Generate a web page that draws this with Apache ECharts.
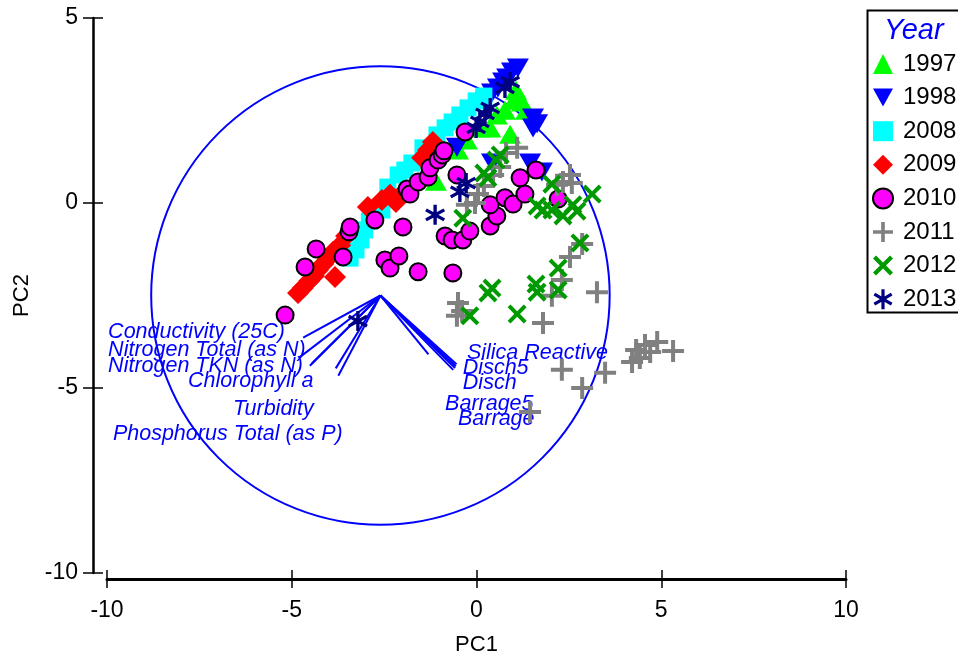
<!DOCTYPE html>
<html><head><meta charset="utf-8">
<script src="https://cdn.jsdelivr.net/npm/echarts@6/dist/echarts.min.js"></script>
<style>html,body{margin:0;padding:0;background:#fff}#c{width:958px;height:661px}</style>
</head><body><div id="c"></div>
<script>
// ---------- data ----------
const years = ['1997','1998','2008','2009','2010','2011','2012','2013'];
const d1997 = [[-1.10,0.59],[-0.50,1.43],[-0.26,1.70],[0.09,2.03],[0.37,2.03],[0.55,2.38],[0.77,2.51],[0.91,1.86],[1.01,2.78],[1.23,2.73],[1.34,2.51],[1.07,3.05]];
const d1998 = [[1.12,3.65],[0.96,3.54],[0.83,3.38],[0.72,3.27],[0.58,3.11],[0.42,2.97],[0.26,2.78],[1.53,2.30],[1.64,2.14],[1.53,2.03],[1.45,1.08],[1.77,0.84],[0.42,1.08],[-0.53,1.51]];
const d2008 = [[-3.42,-1.49],[-3.26,-1.27],[-3.13,-1.00],[-3.03,-0.73],[-2.90,-0.49],[-2.75,-0.30],[-2.56,-0.19],[-2.40,0.43],[-2.12,0.76],[-1.94,0.89],[-1.75,1.08],[-1.45,1.49],[-1.07,1.84],[-0.85,2.03],[-0.66,2.19],[-0.45,2.38],[-0.23,2.57],[-0.01,2.76],[0.20,2.89]];
const d2009 = [[-4.83,-2.43],[-4.70,-2.30],[-4.53,-2.11],[-4.40,-1.97],[-4.29,-1.81],[-4.15,-1.65],[-4.02,-1.49],[-3.83,-2.00],[-3.88,-1.32],[-3.69,-1.14],[-3.53,-0.89],[-2.94,-0.11],[-2.56,0.08],[-2.34,0.22],[-2.18,0.03],[-1.99,0.27],[-1.47,1.22],[-1.31,1.43],[-1.18,1.65]];
const d2010 = [[-5.18,-3.03],[-4.64,-1.73],[-4.34,-1.24],[-3.61,-1.46],[-3.45,-0.78],[-3.42,-0.65],[-2.75,-0.46],[-1.99,-0.65],[-2.48,-1.54],[-2.34,-1.76],[-2.10,-1.43],[-1.58,-1.86],[-0.64,-1.89],[-0.85,-0.89],[-0.66,-1.00],[-0.37,-1.00],[-0.18,-0.76],[0.37,-0.62],[0.55,-0.35],[0.37,-0.05],[0.77,0.14],[0.99,-0.03],[1.31,0.24],[1.18,0.68],[1.61,0.89],[2.21,0.11],[-0.53,0.76],[-1.88,0.38],[-1.80,0.24],[-1.58,0.57],[-1.31,0.70],[-1.26,0.95],[-1.04,1.16],[-0.93,1.30],[-0.88,1.41],[-0.31,1.92]];
const d2011 = [[0.45,0.76],[0.20,0.46],[0.04,0.24],[-0.04,0.00],[-0.26,-0.05],[0.64,0.97],[0.80,1.35],[1.10,1.49],[2.53,0.76],[2.58,0.54],[2.34,0.57],[2.18,0.49],[2.86,-1.11],[2.53,-1.46],[2.31,-2.08],[2.04,-2.51],[1.80,-3.24],[3.26,-2.41],[-0.50,-2.70],[-0.39,-2.92],[-0.53,-3.05],[2.31,-4.51],[3.48,-4.59],[2.86,-5.00],[1.45,-5.65],[4.32,-3.97],[4.56,-3.84],[4.89,-3.76],[5.32,-4.00],[4.42,-4.19],[4.70,-4.03],[4.21,-4.30]];
const d2012 = [[0.64,1.30],[0.53,1.16],[0.20,0.81],[0.31,0.68],[-0.37,-0.41],[1.64,-0.08],[1.80,-0.19],[2.04,-0.19],[2.34,-0.35],[2.72,-0.22],[2.61,-0.05],[3.13,0.24],[2.04,0.51],[2.80,-1.08],[2.21,-1.76],[1.61,-2.19],[1.64,-2.41],[2.21,-2.35],[0.42,-2.30],[0.31,-2.43],[1.10,-3.00],[-0.18,-3.05]];
const d2013 = [[0.91,3.27],[0.77,3.11],[0.37,2.57],[0.23,2.41],[0.09,2.19],[-0.01,2.03],[-0.28,0.54],[-0.45,0.30],[-1.12,-0.32],[-3.21,-3.19]];
const yearData = [d1997,d1998,d2008,d2009,d2010,d2011,d2012,d2013];

const xTicks = [-10,-5,0,5,10];
const yTicks = [-10,-5,0,5];
const circleCenter = [-2.6,-2.5];
const circleRadius = 6.2;
const vectorOrigin = [-2.6,-2.5];
const vectorNames = ['Conductivity (25C)','Nitrogen Total (as N)','Nitrogen TKN (as N)','Chlorophyll a','Turbidity','Phosphorus Total (as P)','Silica Reactive','Disch5','Disch','Barrage5','Barrage'];
const vectorEnds = [[-4.69,-3.64],[-4.80,-4.18],[-4.51,-4.40],[-3.81,-4.47],[-3.74,-4.67],[-4.45,-4.33],[-1.30,-4.09],[-0.54,-4.36],[-0.56,-4.41],[-0.63,-4.51],[-0.58,-4.46]];
const vectorLabelAt = [[-9.97,-3.49],[-9.97,-3.97],[-9.97,-4.41],[-7.81,-4.82],[-6.59,-5.57],[-9.84,-6.24],[-0.26,-4.05],[-0.37,-4.45],[-0.37,-4.86],[-0.85,-5.43],[-0.50,-5.83]];

// ---------- styles ----------
const FONT = '"Liberation Sans", Arial, sans-serif';
const BLUE = '#0000ff';
const PLUS = 'path://M9,0H13V9H22V13H13V22H9V13H0V9H9Z';
const XMARK = 'path://M0,3L3,0L10,7L17,0L20,3L13,10L20,17L17,20L10,13L3,20L0,17L7,10Z';
const ASTER = 'path://M8.4,0L11.6,0L11.6,20L8.4,20Z M0.54,6.39L2.14,3.61L19.46,13.61L17.86,16.39Z M17.86,3.61L19.46,6.39L2.14,16.39L0.54,13.61Z';
const DOWNTRI = 'path://M0,0L20,0L10,18Z';
const styles = {
  '1997': {symbol:'triangle', symbolSize:[22,19], itemStyle:{color:'#00ff00', opacity:1}},
  '1998': {symbol:DOWNTRI, symbolSize:[22,19], itemStyle:{color:'#0000ff', opacity:1}},
  '2008': {symbol:'rect', symbolSize:17, itemStyle:{color:'#00ffff', opacity:1}},
  '2009': {symbol:'diamond', symbolSize:22, itemStyle:{color:'#ff0000', opacity:1}},
  '2010': {symbol:'circle', symbolSize:17, itemStyle:{color:'#ff00ff', borderColor:'#000', borderWidth:2, opacity:1}},
  '2011': {symbol:PLUS, symbolSize:22, itemStyle:{color:'#808080', opacity:1}},
  '2012': {symbol:XMARK, symbolSize:19, itemStyle:{color:'#009a00', opacity:1}},
  '2013': {symbol:ASTER, symbolSize:20, itemStyle:{color:'#000080', opacity:1}}
};

const scatterSeries = years.map((y,i)=>Object.assign({
  type:'scatter', name:y, data:yearData[i], z:3, animation:false
}, styles[y]));

const chart = echarts.init(document.getElementById('c'), null, {renderer:'canvas'});

const baseX = {type:'value', min:xTicks[0], max:xTicks[xTicks.length-1], interval:5, position:'bottom', offset:6,
  splitLine:{show:false}};
const baseY = {type:'value', min:yTicks[0], max:yTicks[yTicks.length-1], interval:5, position:'left', offset:14,
  splitLine:{show:false}};

chart.setOption({
  animation:false,
  grid:{left:107, right:112, top:18, bottom:88},
  xAxis:[
    Object.assign({}, baseX, {
      axisLine:{show:true, onZero:false, lineStyle:{color:'#000', width:3}},
      axisTick:{show:true, inside:false, length:9, lineStyle:{color:'#000', width:1.5}},
      axisLabel:{fontSize:23, color:'#000', fontFamily:FONT, margin:20},
      name:'PC1', nameLocation:'middle', nameGap:55,
      nameTextStyle:{fontSize:22, color:'#000', fontFamily:FONT}
    }),
    Object.assign({}, baseX, {
      axisLine:{show:false, onZero:false}, axisLabel:{show:false},
      axisTick:{show:true, inside:true, length:9, lineStyle:{color:'#000', width:1.5}}
    })
  ],
  yAxis:[
    Object.assign({}, baseY, {
      axisLine:{show:true, onZero:false, lineStyle:{color:'#000', width:2.5}},
      axisTick:{show:true, inside:false, length:10, lineStyle:{color:'#000', width:1.5}},
      axisLabel:{fontSize:23, color:'#000', fontFamily:FONT, margin:15},
      name:'PC2', nameLocation:'middle', nameGap:60,
      nameTextStyle:{fontSize:22, color:'#000', fontFamily:FONT}
    }),
    Object.assign({}, baseY, {
      axisLine:{show:false, onZero:false}, axisLabel:{show:false},
      axisTick:{show:true, inside:true, length:10, lineStyle:{color:'#000', width:1.5}}
    })
  ],
  legend:{
    data:years, orient:'vertical', left:872, top:51, padding:0,
    itemWidth:20, itemHeight:20, itemGap:7.6,
    textStyle:{fontSize:24, color:'#000', fontFamily:FONT, lineHeight:26, padding:[0,0,0,5]}
  },
  graphic:[
    {type:'rect', left:865, top:8, shape:{width:160, height:302}, style:{fill:'none', stroke:'#000', lineWidth:2}, z:-1},
    {type:'text', left:884, top:16, style:{text:'Year', fill:BLUE, font:'italic 29px '+FONT}}
  ],
  series:[
    {type:'custom', silent:true, z:1, animation:false, clip:false,
     data:[[circleCenter[0], circleCenter[1], circleRadius]],
     renderItem:function(params, api){
       const c = api.coord([api.value(0), api.value(1)]);
       const s = api.size([api.value(2), api.value(2)]);
       const r = (Math.abs(s[0]) + Math.abs(s[1]))/2;
       return {type:'circle', shape:{cx:c[0], cy:c[1], r:r}, style:{fill:'none', stroke:BLUE, lineWidth:2}};
     }},
    {type:'custom', silent:true, z:2, animation:false, clip:false,
     data:vectorEnds.map((e,i)=>[e[0], e[1], i]),
     renderItem:function(params, api){
       const o = api.coord(vectorOrigin);
       const e = api.coord([api.value(0), api.value(1)]);
       return {type:'line', shape:{x1:o[0], y1:o[1], x2:e[0], y2:e[1]}, style:{stroke:BLUE, lineWidth:2}};
     }},
    {type:'custom', silent:true, z:2, animation:false, clip:false,
     data:vectorLabelAt.map((p,i)=>[p[0], p[1], i]),
     renderItem:function(params, api){
       const p = api.coord([api.value(0), api.value(1)]);
       return {type:'text', x:p[0], y:p[1], style:{text:vectorNames[api.value(2)], fill:BLUE,
         font:'italic 21.5px '+FONT, align:'left', verticalAlign:'middle'}};
     }}
  ].concat(scatterSeries)
});
</script></body></html>
